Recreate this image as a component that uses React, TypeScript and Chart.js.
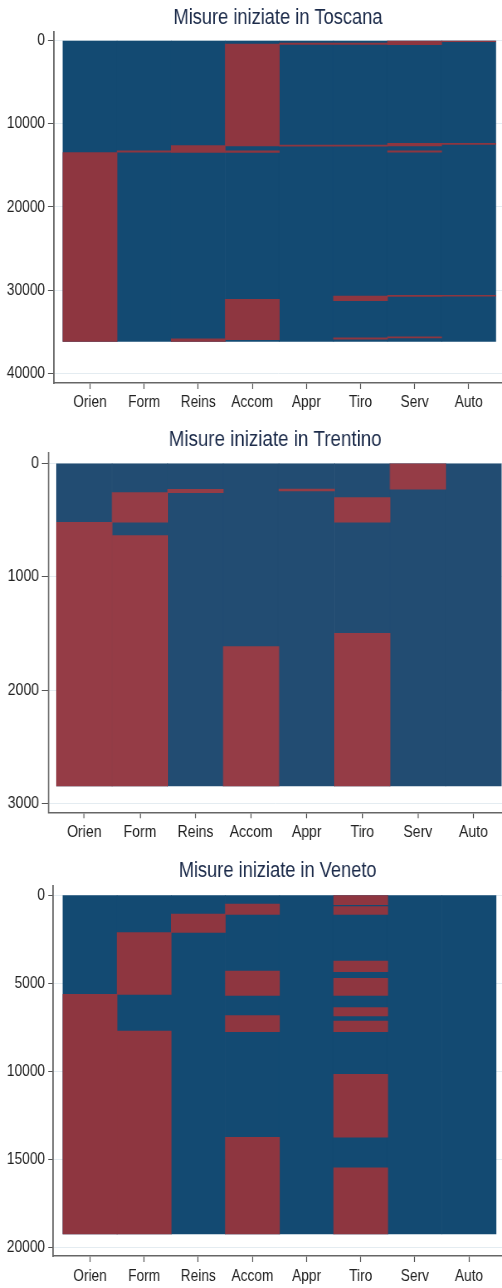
import React, { useEffect, useRef } from "react";
import { Chart, registerables } from "chart.js";

Chart.register(...registerables);

// ---------- data ----------
const categories = ["Orien", "Form", "Reins", "Accom", "Appr", "Tiro", "Serv", "Auto"];

// Toscana
const toscanaTitle = "Misure iniziate in Toscana";
const toscanaTotal = 36180;
const toscanaTicks = [0, 10000, 20000, 30000, 40000];
const toscanaRange = [-1046, 41167];
const toscanaSegments: [number, number][][] = [
  [[13470, 36180]],
  [[13250, 13420]],
  [[12600, 13450], [35850, 36180]],
  [[400, 12660], [13250, 13450], [31100, 35950]],
  [[300, 450], [12550, 12680]],
  [[300, 450], [12550, 12680], [30700, 31270], [35720, 35910]],
  [[0, 480], [12340, 12660], [13250, 13420], [30620, 30760], [35600, 35760]],
  [[0, 120], [12350, 12470], [30620, 30720]],
];

// Trentino
const trentinoTitle = "Misure iniziate in Trentino";
const trentinoTotal = 2846;
const trentinoTicks = [0, 1000, 2000, 3000];
const trentinoRange = [-88, 3078];
const trentinoSegments: [number, number][][] = [
  [[520, 2846]],
  [[259, 520], [638, 2846]],
  [[229, 259]],
  [[1617, 2846]],
  [[227, 243]],
  [[303, 520], [1499, 2846]],
  [[0, 229]],
  [],
];

// Veneto
const venetoTitle = "Misure iniziate in Veneto";
const venetoTotal = 19240;
const venetoTicks = [0, 5000, 10000, 15000, 20000];
const venetoRange = [-528, 20488];
const venetoSegments: [number, number][][] = [
  [[5640, 19240]],
  [[2130, 5640], [7720, 19240]],
  [[1078, 2130]],
  [[511, 1095], [4313, 5700], [6850, 7758], [13750, 19240]],
  [],
  [[0, 550], [663, 1095], [3746, 4353], [4730, 5697], [6395, 6868], [7150, 7758], [10180, 13750], [15490, 19240]],
  [],
  [],
];

// ---------- layout / style ----------
const FONT = "'Liberation Sans', Arial, Helvetica, sans-serif";

type PanelCfg = {
  title: string;
  total: number;
  ticks: number[];
  range: number[];
  segments: [number, number][][];
  top: number;
  height: number;
  sx: number;
  axisLeft: number;
  chartTop: number;
  chartBottom: number;
  titleY: number;
  xRange: number[];
  yTickLen: number;
  yLabelGap: number;
  xLabelPad: number;
  blue: string;
  red: string;
};

const panels: PanelCfg[] = [
  {
    title: toscanaTitle, total: toscanaTotal, ticks: toscanaTicks, range: toscanaRange, segments: toscanaSegments,
    top: 0, height: 424, sx: 0.83, axisLeft: 54, chartTop: 32, chartBottom: 383, titleY: 18,
    xRange: [-0.6654, 7.6155], yTickLen: 6, yLabelGap: 3, xLabelPad: 3.8,
    blue: "#134a72", red: "#8e3640",
  },
  {
    title: trentinoTitle, total: trentinoTotal, ticks: trentinoTicks, range: trentinoRange, segments: trentinoSegments,
    top: 424, height: 428, sx: 0.853, axisLeft: 48.3, chartTop: 29.3, chartBottom: 388.3, titleY: 16,
    xRange: [-0.6475, 7.5126], yTickLen: 6.6, yLabelGap: 2.7, xLabelPad: 4.5,
    blue: "#224c72", red: "#953c46",
  },
  {
    title: venetoTitle, total: venetoTotal, ticks: venetoTicks, range: venetoRange, segments: venetoSegments,
    top: 852, height: 436, sx: 0.83, axisLeft: 53.3, chartTop: 33.7, chartBottom: 404, titleY: 19.3,
    xRange: [-0.678, 7.61], yTickLen: 5, yLabelGap: 3.3, xLabelPad: 4.8,
    blue: "#134a72", red: "#8e3640",
  },
];

function Panel({ cfg }: { cfg: PanelCfg }) {
  const ref = useRef<HTMLCanvasElement>(null);
  const W = Math.round(502 / cfg.sx);
  const S = 502 / W;

  useEffect(() => {
    if (!ref.current) return;
    const titleSize = 22;
    const titleLH = titleSize * 1.2;
    const padTop = cfg.titleY - titleLH / 2;
    const padBottom = cfg.chartTop - cfg.titleY - titleLH / 2;

    const maxK = Math.max(0, ...cfg.segments.map((s) => s.length));
    const redSets: any[] = [];
    for (let k = 0; k < maxK; k++) {
      const data: any[] = [];
      cfg.segments.forEach((segs, i) => {
        if (segs[k]) data.push({ x: i, y: segs[k] });
      });
      redSets.push({
        label: "red" + k,
        data,
        backgroundColor: cfg.red,
        borderWidth: 0,
        order: 0,
      });
    }
    const bg = {
      label: "bg",
      data: categories.map((_, i) => ({ x: i, y: [0, cfg.total] })),
      backgroundColor: cfg.blue,
      borderWidth: 0,
      order: 5,
    };

    const chart = new Chart(ref.current, {
      type: "bar",
      data: { datasets: [...redSets, bg] },
      options: {
        animation: false,
        responsive: false,
        devicePixelRatio: 1,
        events: [],
        layout: { padding: 0 },
        datasets: {
          bar: { grouped: false, barPercentage: 1, categoryPercentage: 1 },
        } as any,
        plugins: {
          legend: { display: false },
          tooltip: { enabled: false },
          title: {
            display: true,
            text: cfg.title,
            fullSize: false,
            align: "center",
            color: "#1c2b4a",
            font: { family: FONT, size: titleSize, weight: "normal" as any, lineHeight: 1.2 },
            padding: { top: padTop, bottom: padBottom },
          },
        },
        scales: {
          x: {
            type: "linear",
            position: "bottom",
            offset: false,
            min: cfg.xRange[0],
            max: cfg.xRange[1],
            afterBuildTicks: (s: any) => {
              s.ticks = categories.map((_, i) => ({ value: i }));
            },
            afterFit: (s: any) => {
              s.height = cfg.height - cfg.chartBottom;
            },
            grid: {
              display: true,
              offset: false,
              drawOnChartArea: false,
              drawTicks: true,
              tickLength: 6,
              tickColor: "#555",
              tickWidth: 1.2,
            },
            border: { display: true, color: "#666", width: 1.5 },
            ticks: {
              autoSkip: false,
              maxRotation: 0,
              minRotation: 0,
              padding: cfg.xLabelPad,
              color: "#222",
              font: { family: FONT, size: 16.5 },
              callback: (v: any) => categories[Math.round(Number(v))] ?? "",
            },
          },
          y: {
            type: "linear",
            reverse: true,
            min: cfg.range[0],
            max: cfg.range[1],
            afterBuildTicks: (s: any) => {
              s.ticks = cfg.ticks.map((v) => ({ value: v }));
            },
            afterFit: (s: any) => {
              s.width = cfg.axisLeft / S;
            },
            grid: {
              display: true,
              drawOnChartArea: true,
              color: "#e4ecf1",
              lineWidth: 1,
              drawTicks: true,
              tickLength: cfg.yTickLen / S,
              tickColor: "#555",
              tickWidth: 1,
            },
            border: { display: true, color: "#666", width: 1.5 / S },
            ticks: {
              padding: cfg.yLabelGap / S,
              color: "#222",
              font: { family: FONT, size: 16.5 },
              callback: (v: any) => String(v),
            },
          },
        },
      } as any,
    });
    return () => chart.destroy();
  }, []);

  return (
    <canvas
      ref={ref}
      width={W}
      height={cfg.height}
      style={{
        position: "absolute",
        left: 0,
        top: cfg.top,
        width: "502px",
        height: cfg.height + "px",
      }}
    />
  );
}

export default function App() {
  useEffect(() => {
    document.body.style.margin = "0";
    document.body.style.overflow = "hidden";
  }, []);
  return (
    <div
      style={{
        position: "absolute",
        left: 0,
        top: 0,
        width: 502,
        height: 1288,
        overflow: "hidden",
        background: "#ffffff",
      }}
    >
      {panels.map((p, i) => (
        <Panel key={i} cfg={p} />
      ))}
    </div>
  );
}
